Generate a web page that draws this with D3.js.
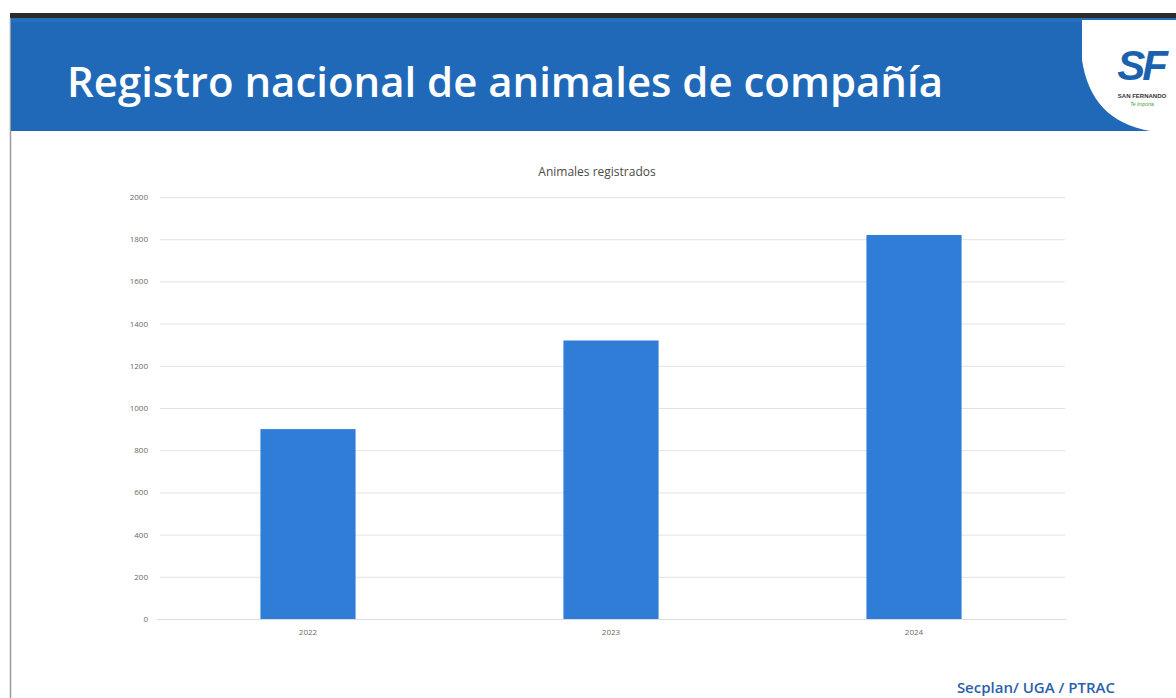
<!DOCTYPE html>
<html>
<head>
<meta charset="utf-8">
<script src="https://cdn.jsdelivr.net/npm/d3@7"></script>
<style>
  html, body { margin: 0; padding: 0; background: #ffffff; }
  svg { display: block; }
</style>
</head>
<body>
<script>
// Registered companion animals per year
const years = ["2022", "2023", "2024"];
const registered = [900, 1320, 1820];
const yTicks = [0, 200, 400, 600, 800, 1000, 1200, 1400, 1600, 1800, 2000];

const slideTitle = "Registro nacional de animales de compañía";
const chartTitle = "Animales registrados";
const sourceNote = "Secplan/ UGA / PTRAC";

const W = 1176, H = 698;
const svg = d3.select("body").append("svg").attr("width", W).attr("height", H);

// ---- slide frame and header band ----
svg.append("rect").attr("x", 0).attr("y", 0).attr("width", W).attr("height", H).attr("fill", "#ffffff");
svg.append("line").attr("x1", 10.5).attr("x2", 10.5).attr("y1", 18).attr("y2", H)
  .attr("stroke", "#9a9a9a").attr("stroke-width", 1.5);
svg.append("rect").attr("x", 10).attr("y", 13).attr("width", W - 10).attr("height", 5).attr("fill", "#2b2b2b");
svg.append("rect").attr("x", 11).attr("y", 18).attr("width", W - 11).attr("height", 113).attr("fill", "#1f69b8");
svg.append("rect").attr("x", 11).attr("y", 18).attr("width", W - 11).attr("height", 4).attr("fill", "#2a74c2").attr("opacity", 0.6);

// white corner panel holding the logo
svg.append("path")
  .attr("d", "M1082,20 L1176,20 L1176,131 L1150,131 C1110,124 1088,100 1082,60 Z")
  .attr("fill", "#ffffff");

svg.append("text")
  .attr("x", 1141).attr("y", 80)
  .attr("text-anchor", "middle")
  .attr("font-family", "'Liberation Sans', Arial, sans-serif")
  .attr("font-weight", "bold").attr("font-style", "italic")
  .attr("font-size", 42).attr("fill", "#1a62b0")
  .attr("letter-spacing", -3)
  .text("SF");
svg.append("text")
  .attr("x", 1142).attr("y", 98)
  .attr("text-anchor", "middle")
  .attr("font-family", "'Liberation Sans', Arial, sans-serif")
  .attr("font-weight", "bold").attr("font-size", 6).attr("fill", "#333")
  .text("SAN FERNANDO");
svg.append("text")
  .attr("x", 1142).attr("y", 106)
  .attr("text-anchor", "middle")
  .attr("font-family", "'Liberation Sans', Arial, sans-serif")
  .attr("font-style", "italic").attr("font-size", 5).attr("fill", "#3a9a3a")
  .text("Te Importa");

svg.append("text")
  .attr("x", 67).attr("y", 97)
  .attr("font-family", "'Open Sans', 'Noto Sans', sans-serif")
  .attr("font-weight", 600)
  .attr("font-size", 42)
  .attr("textLength", 876)
  .attr("lengthAdjust", "spacingAndGlyphs")
  .attr("fill", "#ffffff")
  .text(slideTitle);

// ---- chart ----
const x = d3.scaleBand().domain(years).range([156.5, 1065.5])
  .paddingInner(0.686).paddingOuter(0.343);
const y = d3.scaleLinear().domain([0, 2000]).range([619, 197]);

svg.append("text")
  .attr("x", 597).attr("y", 176)
  .attr("text-anchor", "middle")
  .attr("font-family", "'Open Sans', sans-serif")
  .attr("font-size", 12).attr("fill", "#4a4a4a")
  .text(chartTitle);

// horizontal gridlines
const yAxis = d3.axisLeft(y).tickValues(yTicks).tickFormat(d3.format("d"))
  .tickSize(-(1065 - 160)).tickPadding(12);
const gy = svg.append("g").attr("transform", "translate(160,0)").call(yAxis);
gy.select(".domain").remove();
gy.selectAll(".tick line").attr("stroke", "#e3e3e3").attr("stroke-width", 1);
gy.selectAll(".tick text")
  .attr("font-family", "'Open Sans', sans-serif")
  .attr("font-size", 8).attr("fill", "#6a6a6a");

// bars
svg.append("g").selectAll("rect")
  .data(years.map((yr, i) => ({ yr, v: registered[i] })))
  .join("rect")
  .attr("x", d => x(d.yr))
  .attr("y", d => y(d.v))
  .attr("width", x.bandwidth())
  .attr("height", d => y(0) - y(d.v))
  .attr("fill", "#2f7dd6");

// category axis
const xAxis = d3.axisBottom(x).tickSize(0).tickPadding(10);
const gx = svg.append("g").attr("transform", "translate(0,619)").call(xAxis);
gx.select(".domain").attr("stroke", "#dcdcdc");
gx.selectAll(".tick text")
  .attr("font-family", "'Open Sans', sans-serif")
  .attr("font-size", 8).attr("fill", "#6a6a6a");

// source note
svg.append("text")
  .attr("x", 1115).attr("y", 693)
  .attr("text-anchor", "end")
  .attr("font-family", "'Open Sans', sans-serif")
  .attr("font-weight", 600)
  .attr("font-size", 15).attr("fill", "#2b5fae")
  .text(sourceNote);
</script>
</body>
</html>
